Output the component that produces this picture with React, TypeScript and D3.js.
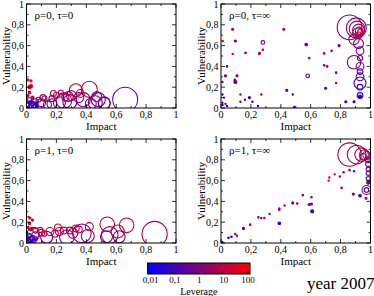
import React from 'react';
import * as d3 from 'd3';

// each bank: [impact, vulnerability, relative size, leverage]
type Bank = [number, number, number, number];

const rho0tau0: Bank[] = [
  [0.66, 0.08, 0.96, 0.6], [0.42, 0.18, 0.62, 15], [0.33, 0.17, 0.5, 12],
  [0.48, 0.08, 0.54, 0.5], [0.52, 0.05, 0.46, 0.4], [0.46, 0.05, 0.54, 0.8],
  [0.38, 0.08, 0.54, 1.5], [0.43, 0.04, 0.42, 0.6], [0.29, 0.06, 0.54, 0.7],
  [0.25, 0.07, 0.6, 1], [0.22, 0.05, 0.46, 0.5], [0.30, 0.12, 0.38, 3],
  [0.35, 0.10, 0.38, 2], [0.17, 0.04, 0.38, 0.4], [0.14, 0.03, 0.31, 0.3],
  [0.20, 0.12, 0.23, 5], [0.23, 0.15, 0.19, 8], [0.26, 0.10, 0.27, 4],
  [0.11, 0.10, 0.23, 3], [0.10, 0.05, 0.31, 1], [0.08, 0.08, 0.19, 2],
  [0.06, 0.06, 0.23, 0.5], [0.05, 0.03, 0.23, 0.2], [0.17, 0.09, 0.23, 2],
  [0.12, 0.09, 0.2, 4], [0.18, 0.14, 0.23, 10], [0.28, 0.11, 0.38, 2],
  [0.36, 0.14, 0.3, 6], [0.47, 0.11, 0.38, 1.2], [0.52, 0.045, 0.46, 0.7],
  [0.01, 0.27, 0.08, 20], [0.03, 0.26, 0.08, 30], [0.02, 0.20, 0.12, 20],
  [0.03, 0.21, 0.12, 15], [0.02, 0.15, 0.1, 10], [0.01, 0.12, 0.08, 8],
  [0.02, 0.08, 0.15, 3], [0.04, 0.10, 0.12, 5], [0.01, 0.03, 0.15, 0.03],
  [0.03, 0.02, 0.19, 0.05], [0.02, 0.05, 0.12, 0.1], [0.05, 0.01, 0.15, 0.02],
  [0.04, 0.04, 0.15, 0.1], [0.07, 0.02, 0.12, 0.05], [0.0, 0.06, 0.08, 0.3],
  [0.01, 0.0, 0.12, 0.02], [0.03, 0.06, 0.1, 0.06], [0.06, 0.04, 0.12, 0.08],
];

const rho0tauInf: Bank[] = [
  [0.86, 0.775, 0.95, 1.2], [0.905, 0.77, 0.77, 2], [0.91, 0.76, 0.6, 3],
  [0.92, 0.75, 0.45, 5], [0.915, 0.72, 0.4, 4], [0.925, 0.74, 0.3, 8],
  [0.92, 0.70, 0.25, 6], [0.93, 0.73, 0.2, 10], [0.89, 0.66, 0.4, 1.5],
  [0.92, 0.62, 0.38, 1], [0.93, 0.55, 0.3, 0.8], [0.89, 0.44, 0.52, 0.5],
  [0.93, 0.40, 0.3, 0.4], [0.93, 0.35, 0.22, 0.3], [0.93, 0.30, 0.3, 0.2],
  [0.93, 0.24, 0.46, 0.15], [0.93, 0.20, 0.22, 0.1], [0.93, 0.12, 0.22, 0.05],
  [0.93, 0.11, 0.12, 0.05], [0.93, 0.48, 0.2, 0.6],
  [0.078, 0.757, 0.08, 10], [0.42, 0.757, 0.08, 3], [0.011, 0.644, 0.06, 20],
  [0.096, 0.644, 0.08, 0.5], [0.28, 0.63, 0.14, 0.4], [0.57, 0.61, 0.1, 0.6],
  [0.164, 0.53, 0.06, 5], [0.078, 0.52, 0.05, 20], [0.257, 0.525, 0.08, 4],
  [0.28, 0.56, 0.06, 6], [0.69, 0.525, 0.06, 3], [0.74, 0.55, 0.06, 5],
  [0.79, 0.60, 0.08, 0.8], [0.59, 0.48, 0.06, 2], [0.69, 0.41, 0.06, 3],
  [0.71, 0.40, 0.06, 2], [0.04, 0.40, 0.06, 0.5], [0.77, 0.34, 0.06, 1],
  [0.03, 0.31, 0.08, 0.4], [0.107, 0.31, 0.08, 0.6], [0.58, 0.31, 0.14, 0.2],
  [0.096, 0.25, 0.12, 0.3], [0.092, 0.27, 0.06, 0.8], [0.009, 0.25, 0.06, 1],
  [0.77, 0.24, 0.05, 3], [0.70, 0.19, 0.08, 0.2], [0.44, 0.17, 0.08, 0.1],
  [0.48, 0.13, 0.05, 0.4], [0.13, 0.13, 0.05, 5], [0.27, 0.13, 0.05, 3],
  [0.19, 0.10, 0.08, 0.05], [0.16, 0.08, 0.05, 0.5], [0.13, 0.06, 0.05, 0.2],
  [0.21, 0.06, 0.05, 0.05], [0.247, 0.02, 0.05, 0.03], [0.49, 0.01, 0.06, 0.03],
  [0.01, 0.05, 0.05, 0.8], [0.03, 0.04, 0.05, 0.3], [0.01, 0.03, 0.05, 0.1],
  [0.04, 0.02, 0.05, 0.05], [0.835, 0.06, 0.08, 0.05], [0.89, 0.06, 0.08, 0.04],
  [0.01, 0.13, 0.05, 0.5], [0.02, 0.10, 0.05, 0.2],
];

const rho1tau0: Bank[] = [
  [0.857, 0.087, 0.97, 4], [0.67, 0.17, 0.56, 10], [0.54, 0.18, 0.56, 10],
  [0.61, 0.11, 0.5, 8], [0.557, 0.077, 0.64, 2], [0.535, 0.06, 0.46, 1],
  [0.62, 0.06, 0.46, 0.8], [0.42, 0.157, 0.31, 10], [0.41, 0.067, 0.5, 1.5],
  [0.37, 0.093, 0.72, 2], [0.27, 0.055, 0.56, 0.8], [0.31, 0.093, 0.38, 3],
  [0.22, 0.11, 0.31, 6], [0.29, 0.12, 0.26, 8], [0.33, 0.14, 0.26, 8],
  [0.21, 0.15, 0.26, 15], [0.157, 0.11, 0.31, 5], [0.135, 0.055, 0.46, 0.6],
  [0.09, 0.125, 0.2, 15], [0.10, 0.10, 0.26, 4], [0.045, 0.093, 0.46, 0.7],
  [0.19, 0.09, 0.26, 5], [0.25, 0.12, 0.26, 6], [0.35, 0.13, 0.26, 7],
  [0.12, 0.09, 0.2, 8], [0.06, 0.12, 0.2, 10], [0.06, 0.07, 0.3, 1],
  [0.02, 0.05, 0.3, 0.1], [0.03, 0.03, 0.25, 0.05], [0.01, 0.02, 0.2, 0.03],
  [0.04, 0.05, 0.2, 0.2], [0.02, 0.07, 0.15, 0.3], [0.05, 0.02, 0.15, 0.05],
  [0.01, 0.04, 0.12, 0.02], [0.03, 0.01, 0.12, 0.03], [0.06, 0.04, 0.15, 0.15],
  [0.023, 0.24, 0.08, 30], [0.014, 0.25, 0.06, 40], [0.04, 0.22, 0.08, 25],
  [0.02, 0.19, 0.1, 20], [0.01, 0.15, 0.08, 15], [0.03, 0.13, 0.12, 10],
];

const rho1tauInf: Bank[] = [
  [0.86, 0.85, 0.9, 3], [0.907, 0.85, 0.72, 4], [0.94, 0.85, 0.52, 5],
  [0.96, 0.85, 0.38, 3], [0.975, 0.845, 0.3, 2], [0.95, 0.83, 0.25, 6],
  [0.985, 0.80, 0.22, 1.5], [0.985, 0.76, 0.2, 1], [0.985, 0.71, 0.16, 0.8],
  [0.985, 0.67, 0.16, 0.6], [0.985, 0.62, 0.16, 0.6], [0.973, 0.51, 0.34, 0.4],
  [0.973, 0.51, 0.18, 0.4], [0.985, 0.58, 0.12, 0.5],
  [0.007, 0.007, 0.08, 0.05], [0.05, 0.05, 0.06, 0.1], [0.07, 0.06, 0.06, 0.2],
  [0.095, 0.087, 0.05, 5], [0.107, 0.07, 0.05, 3], [0.15, 0.14, 0.08, 0.2],
  [0.195, 0.176, 0.06, 2], [0.25, 0.247, 0.06, 3], [0.27, 0.24, 0.05, 4],
  [0.29, 0.24, 0.05, 5], [0.325, 0.28, 0.05, 3], [0.39, 0.19, 0.1, 0.05],
  [0.39, 0.33, 0.06, 4], [0.39, 0.32, 0.05, 3], [0.425, 0.36, 0.05, 5],
  [0.48, 0.385, 0.08, 0.6], [0.51, 0.38, 0.06, 2], [0.547, 0.46, 0.06, 3],
  [0.59, 0.37, 0.08, 0.7], [0.605, 0.375, 0.08, 1], [0.605, 0.44, 0.06, 3],
  [0.61, 0.305, 0.12, 0.1], [0.72, 0.60, 0.05, 8], [0.725, 0.63, 0.05, 10],
  [0.76, 0.66, 0.05, 6], [0.795, 0.64, 0.05, 4], [0.82, 0.68, 0.06, 2],
  [0.86, 0.70, 0.06, 2], [0.89, 0.69, 0.06, 1], [0.807, 0.53, 0.06, 1.5],
  [0.885, 0.47, 0.08, 0.6], [0.93, 0.455, 0.1, 0.3], [0.97, 0.43, 0.08, 2],
];

const panels = [
  { label: 'ρ=0, τ=0', data: rho0tau0, x0: 26.5, y0: 4 },
  { label: 'ρ=0, τ=∞', data: rho0tauInf, x0: 221, y0: 4 },
  { label: 'ρ=1, τ=0', data: rho1tau0, x0: 26.5, y0: 139 },
  { label: 'ρ=1, τ=∞', data: rho1tauInf, x0: 221, y0: 139 },
];

const axisTicks = [0, 0.2, 0.4, 0.6, 0.8, 1];
const leverageTicks = [0.01, 0.1, 1, 10, 100];
const leverageLabels = ['0,01', '0,1', '1', '10', '100'];

const PW = 149.5;
const PH = 104;
const font = '"Liberation Serif", "DejaVu Serif", serif';

const levColor = (v: number) =>
  d3.interpolateRgb('#0000ff', '#ff0000')(
    d3.scaleLog().domain([0.01, 100]).clamp(true)(v)
  );
const rScale = d3.scaleLinear().domain([0, 1]).range([0, 13]);
const fmt = (v: number) => (v === 0 || v === 1 ? String(v) : String(v).replace('.', ','));

const Panel: React.FC<{ label: string; data: Bank[]; x0: number; y0: number; idx: number }> = ({
  label, data, x0, y0, idx,
}) => {
  const x = d3.scaleLinear().domain([0, 1]).range([x0, x0 + PW]);
  const y = d3.scaleLinear().domain([0, 1]).range([y0 + PH, y0]);
  const minor = d3.range(0, 1.001, 0.1);
  const sorted = [...data].sort((a, b) => b[2] - a[2]);
  return (
    <g>
      <clipPath id={`clip${idx}`}>
        <rect x={x0} y={y0} width={PW} height={PH} />
      </clipPath>
      <g clipPath={`url(#clip${idx})`}>
        {sorted.map((d, i) => {
          const r = Math.max(rScale(d[2]), 0.6);
          return (
            <circle key={i} cx={x(d[0])} cy={y(d[1])} r={r}
              fill={r < 1.6 ? levColor(d[3]) : 'none'}
              stroke={levColor(d[3])} strokeWidth={1.1} />
          );
        })}
      </g>
      <rect x={x0} y={y0} width={PW} height={PH} fill="none" stroke="#000" strokeWidth={1} />
      {minor.map((t, i) => {
        const L = i % 2 === 0 ? 4 : 2;
        return (
          <g key={i} stroke="#000" strokeWidth={0.8}>
            <line x1={x(t)} x2={x(t)} y1={y0 + PH} y2={y0 + PH - L} />
            <line x1={x(t)} x2={x(t)} y1={y0} y2={y0 + L} />
            <line x1={x0} x2={x0 + L} y1={y(t)} y2={y(t)} />
            <line x1={x0 + PW} x2={x0 + PW - L} y1={y(t)} y2={y(t)} />
          </g>
        );
      })}
      {axisTicks.map((t) => (
        <text key={'x' + t} x={x(t)} y={y0 + PH + 10} fontSize={10} textAnchor="middle" fontFamily={font}>
          {fmt(t)}
        </text>
      ))}
      {axisTicks.map((t) => (
        <text key={'y' + t} x={x0 - 2.5} y={y(t) + 3.5} fontSize={10} textAnchor="end" fontFamily={font}>
          {fmt(t)}
        </text>
      ))}
      <text x={x0 + PW / 2} y={y0 + PH + 22} fontSize={11} textAnchor="middle" fontFamily={font}>
        Impact
      </text>
      <text transform={`translate(${x0 - 16.5},${y0 + PH / 2}) rotate(-90)`} fontSize={11}
        textAnchor="middle" fontFamily={font}>
        Vulnerability
      </text>
      <text x={x0 + 8} y={y0 + 15} fontSize={11} fontFamily={font}>
        {label}
      </text>
    </g>
  );
};

const ColorBar: React.FC = () => {
  const cx0 = 147.5;
  const cx1 = 250;
  const cy = 263;
  const ch = 11;
  const lx = d3.scaleLog().domain([0.01, 100]).range([cx0 + 3, cx1 - 2]);
  const stops = d3.range(0, 1.0001, 0.05);
  const minorTicks: number[] = [];
  for (let e = -2; e < 2; e++) for (let m = 2; m < 10; m++) minorTicks.push(m * Math.pow(10, e));
  return (
    <g>
      <defs>
        <linearGradient id="levGrad" x1="0" x2="1" y1="0" y2="0">
          {stops.map((s) => (
            <stop key={s} offset={s} stopColor={d3.interpolateRgb('#0000ff', '#ff0000')(s)} />
          ))}
        </linearGradient>
      </defs>
      <rect x={cx0} y={cy} width={cx1 - cx0} height={ch} fill="url(#levGrad)" stroke="#000" strokeWidth={1} />
      {leverageTicks.map((t) => (
        <line key={t} x1={lx(t)} x2={lx(t)} y1={cy + ch} y2={cy + ch - 3} stroke="#000" strokeWidth={0.8} />
      ))}
      {minorTicks.map((t) => (
        <line key={t} x1={lx(t)} x2={lx(t)} y1={cy + ch} y2={cy + ch - 1.5} stroke="#000" strokeWidth={0.6} />
      ))}
      {leverageTicks.map((t, i) => (
        <text key={'l' + t} x={lx(t)} y={cy + ch + 8.5} fontSize={9} textAnchor="middle" fontFamily={font}>
          {leverageLabels[i]}
        </text>
      ))}
      <text x={(cx0 + cx1) / 2} y={294.5} fontSize={10} textAnchor="middle" fontFamily={font}>
        Leverage
      </text>
    </g>
  );
};

export default function App() {
  return (
    <svg width={374} height={296} style={{ position: 'absolute', left: 0, top: 0, background: '#fff' }}>
      {panels.map((p, i) => (
        <Panel key={i} idx={i} {...p} />
      ))}
      <ColorBar />
      <text x={307} y={289} fontSize={17} fontFamily={font}>
        year 2007
      </text>
    </svg>
  );
}
